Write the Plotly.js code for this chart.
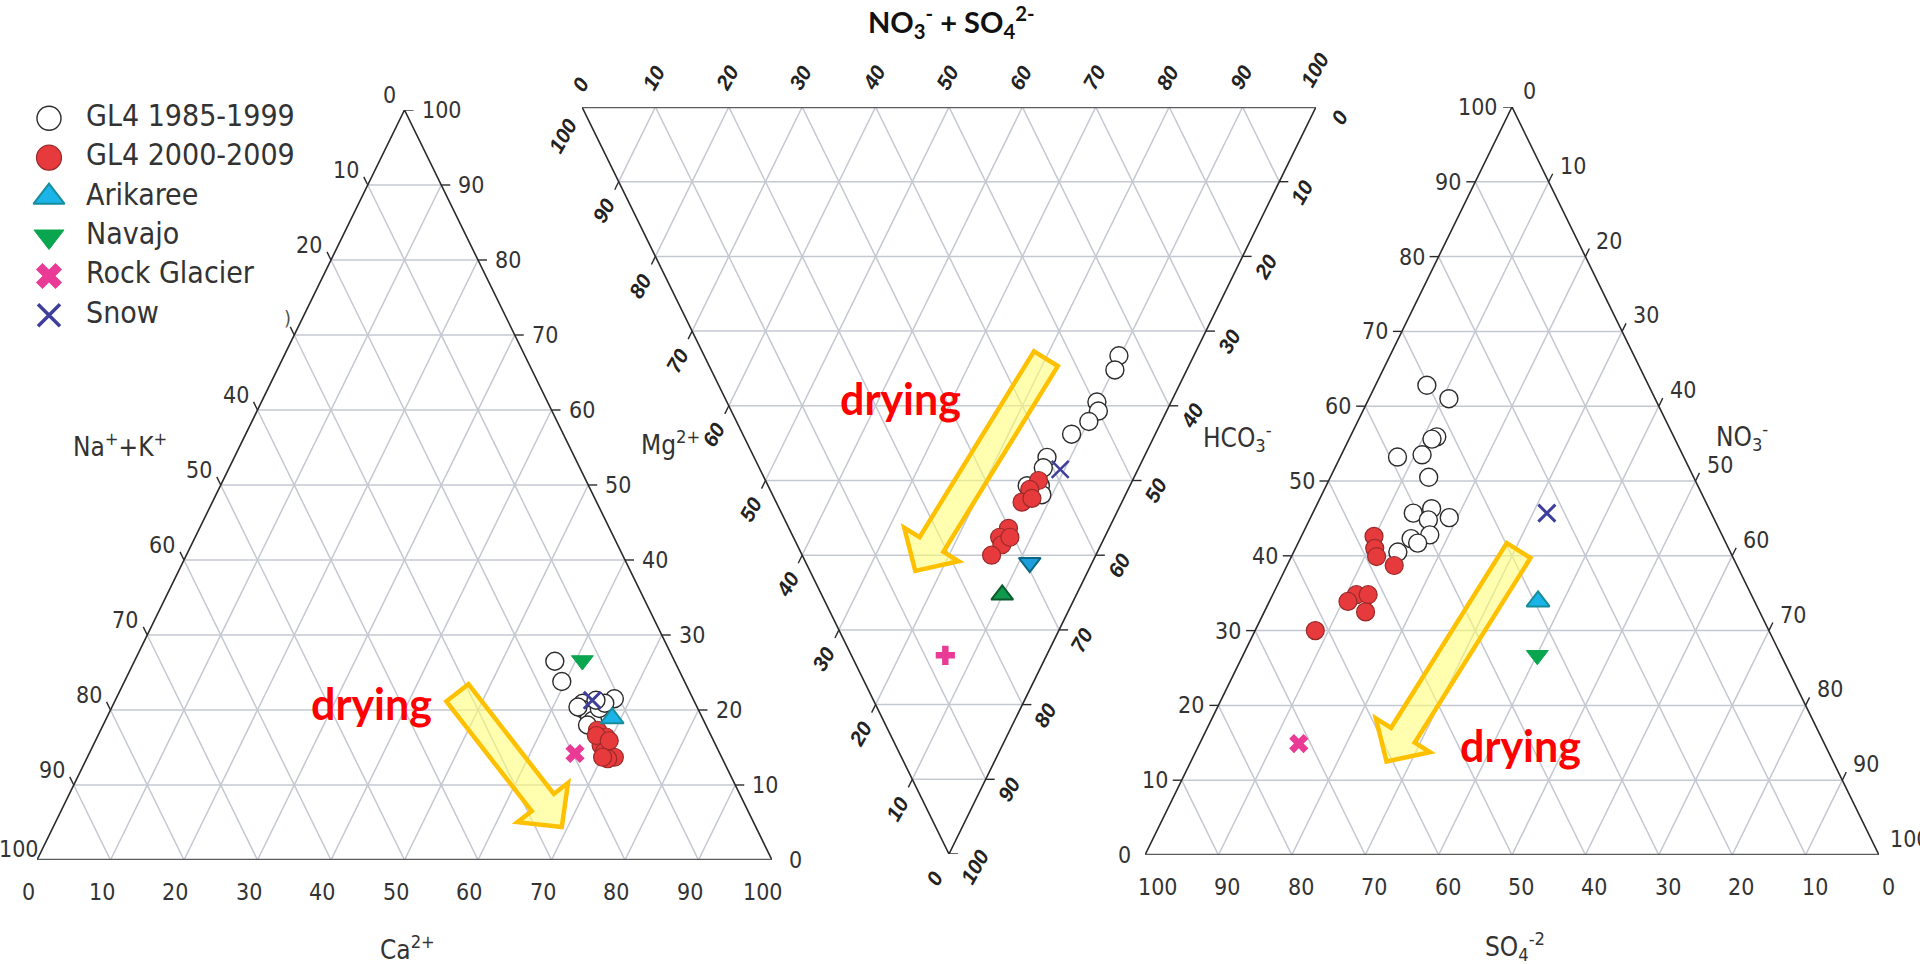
<!DOCTYPE html>
<html>
<head>
<meta charset="utf-8">
<script src="https://cdn.plot.ly/plotly-3.0.1.min.js"></script>
<style>html,body{margin:0;padding:0;background:#fff}#chart{width:1920px;height:964px}</style>
</head>
<body>
<div id="chart"></div>
<script>
// ================= DATA =================
const seriesNames = ['GL4 1985-1999', 'GL4 2000-2009', 'Arikaree', 'Navajo', 'Rock Glacier', 'Snow'];
const tickValues = [0, 10, 20, 30, 40, 50, 60, 70, 80, 90, 100];

// Left triangle (cations): Ca2+ and Mg2+ in %, Na+ + K+ = 100 - Ca - Mg
const catGL4aCa = [57.2, 59.5, 67.8, 63.8, 64.5, 65.5, 66.3, 66.4, 66.8, 65.4, 63.4, 65.9];
const catGL4aMg = [26.5, 23.8, 21.5, 20.9, 20.0, 19.3, 18.6, 20.2, 20.9, 21.3, 20.4, 18.0];
const catGL4bCa = [67.6, 69.2, 69.1, 70.0, 71.7, 70.9, 67.8, 69.9, 70.1];
const catGL4bMg = [17.3, 16.4, 15.3, 14.4, 13.7, 13.5, 16.6, 15.9, 13.7];
const catArikCa = [68.8], catArikMg = [18.9];
const catNavCa = [60.9], catNavMg = [26.6];
const catRockCa = [66.1], catRockMg = [14.2];
const catSnowCa = [64.9], catSnowMg = [21.3];

// Middle (inverted) triangle: top axis NO3- + SO4 2- and right-edge axis, in %
const midGL4aTop = [56.5, 55.0, 50.4, 50.0, 48.0, 44.8, 39.9, 38.7, 37.1, 35.3, 36.7];
const midGL4aRight = [33.3, 35.2, 39.5, 40.7, 42.1, 43.8, 46.9, 48.3, 50.7, 50.7, 51.9];
const midGL4bTop = [37.2, 35.4, 33.5, 35.1, 29.9, 28.1, 27.9, 29.5, 25.8];
const midGL4bRight = [50.0, 51.2, 52.9, 52.4, 56.4, 57.6, 58.6, 57.6, 60.0];
const midArikTop = [30.5], midArikRight = [61.0];
const midNavTop = [24.6], midNavRight = [65.3];
const midRockTop = [12.8], midRockRight = [73.4];
const midSnowTop = [40.9], midSnowRight = [48.5];

// Right triangle (anions): SO4 2- and HCO3- in %, NO3- = 100 - SO4 - HCO3
const anGL4aSO4 = [30.2, 28.1, 32.3, 33.1, 39.0, 35.5, 36.1, 40.6, 37.8, 36.0, 39.0, 39.8, 42.6, 42.0, 45.3];
const anGL4aHCO3 = [62.8, 61.0, 55.9, 55.6, 53.2, 53.5, 50.5, 45.7, 46.3, 45.1, 44.8, 42.8, 42.3, 41.7, 40.5];
const anGL4bSO4 = [47.5, 48.2, 48.5, 46.7, 53.8, 55.4, 52.2, 53.7, 61.8];
const anGL4bHCO3 = [42.6, 41.0, 39.9, 38.7, 34.8, 33.9, 34.8, 32.5, 30.0];
const anArikSO4 = [29.5], anArikHCO3 = [33.9];
const anNavSO4 = [33.2], anNavHCO3 = [26.7];
const anRockSO4 = [71.6], anRockHCO3 = [14.9];
const anSnowSO4 = [22.4], anSnowHCO3 = [45.7];

// ================= LAYOUT / STYLE =================
const W = 1920, H = 964;
const FN = 'Liberation Sans Narrow, Arial Narrow, DejaVu Sans Condensed, Liberation Sans, Arial, sans-serif';
const boxes = {
  L: {x0: 37, x1: 772, yTop: 110, yBot: 860},
  M: {x0: 582, x1: 1316, yTop: 107, yBot: 854},
  R: {x0: 1145, x1: 1879, yTop: 107, yBot: 855},
  G: {x0: 0, x1: 330, yTop: 98.6, yBot: 335}
};
function dom(b) { return {x: [b.x0 / W, b.x1 / W], y: [(H - b.yBot) / H, (H - b.yTop) / H]}; }
function px2paper(px, py) { return [px / W, 1 - py / H]; }

const baseStyle = {
  gl4a: {symbol: 'circle', size: 18, color: '#ffffff', line: {color: '#2b2b2b', width: 1.4}},
  gl4b: {symbol: 'circle', size: 18, color: '#e63a3c', line: {color: '#9a2a2a', width: 1.2}},
  arik: {symbol: 'triangle-up', size: 20, color: '#1ab4e8', line: {color: '#178d9c', width: 2}},
  nav:  {symbol: 'triangle-down', size: 19, color: '#0aa64f', line: {color: '#0aa64f', width: 1}},
  rock: {symbol: 'x', size: 17, color: '#e93a96', line: {width: 0}},
  snow: {symbol: 'x-thin', size: 17, color: '#3e3e9c', line: {color: '#3e3e9c', width: 3}}
};
const midStyle = Object.assign({}, baseStyle, {
  arik: {symbol: 'triangle-down', size: 19, color: '#1a9fdc', line: {color: '#0e6685', width: 2}},
  nav:  {symbol: 'triangle-up', size: 19, color: '#0d9a4c', line: {color: '#0b5a2d', width: 2}},
  rock: {symbol: 'cross', size: 16, color: '#e93a96', line: {width: 0}},
  snow: {symbol: 'x-thin', size: 17, color: '#3e3e9c', line: {color: '#3e3e9c', width: 2.5}}
});
const keys = ['gl4a', 'gl4b', 'arik', 'nav', 'rock', 'snow'];
const leftData = [[catGL4aCa, catGL4aMg], [catGL4bCa, catGL4bMg], [catArikCa, catArikMg], [catNavCa, catNavMg], [catRockCa, catRockMg], [catSnowCa, catSnowMg]];
const midData = [[midGL4aTop, midGL4aRight], [midGL4bTop, midGL4bRight], [midArikTop, midArikRight], [midNavTop, midNavRight], [midRockTop, midRockRight], [midSnowTop, midSnowRight]];
const rightData = [[anGL4aSO4, anGL4aHCO3], [anGL4bSO4, anGL4bHCO3], [anArikSO4, anArikHCO3], [anNavSO4, anNavHCO3], [anRockSO4, anRockHCO3], [anSnowSO4, anSnowHCO3]];

const tris = [
  {box: boxes.L, xa: 'x', ya: 'y', V: [[0, 0], [100, 0], [50, 100]], data: leftData, style: baseStyle,
   toComp: (ca, mg) => [100 - ca - mg, ca, mg],
   axes: [
     {i: 1, j: 2, anchor: 'center', place: n => [-9, 32]},
     // the "30" label of this edge is hidden under the legend in the original (only ")" remains)
     {i: 0, j: 1, anchor: 'right', place: n => [-7, -15], hide: [30],
      special: {100: {anchor: 'center', off: [-18, -11]}}},
     {i: 2, j: 0, anchor: 'left', place: n => [15, 0]}
   ]},
  {box: boxes.M, xa: 'x2', ya: 'y2', V: [[0, 100], [100, 100], [50, 0]], data: midData, style: midStyle,
   toComp: (t, r) => [100 - t - r, t, r],
   axes: [
     {i: 1, j: 2, rot: true, place: n => [-2, -(23 + 7 * (n - 1))]},
     {i: 0, j: 1, rot: true, place: n => [n > 2 ? -20 : -15, n < 2 ? 24 : 29]},
     {i: 2, j: 0, rot: true, place: n => [n > 2 ? 25 : 23, n > 2 ? 13 : 10]}
   ]},
  {box: boxes.R, xa: 'x3', ya: 'y3', V: [[0, 0], [100, 0], [50, 100]], data: rightData, style: baseStyle,
   toComp: (s, h) => [s, 100 - s - h, h],
   axes: [
     {i: 0, j: 2, anchor: 'center', place: n => [n > 2 ? 13 : 9, 32]},
     {i: 2, j: 1, anchor: 'right', place: n => [-12, 0]},
     {i: 1, j: 0, anchor: 'left', place: n => [9, -16]}
   ]}
];

function pos(V, c) {
  return [(c[0] * V[0][0] + c[1] * V[1][0] + c[2] * V[2][0]) / 100,
          (c[0] * V[0][1] + c[1] * V[1][1] + c[2] * V[2][1]) / 100];
}
function comp(i, v, j) { const c = [0, 0, 0]; const k = 3 - i - j; c[i] = v; c[j] = 0; c[k] = 100 - v; return c; }

const traces = [];
const annotations = [];
const shapes = [];

tris.forEach(t => {
  const sx = (t.box.x1 - t.box.x0) / 100, sy = (t.box.yBot - t.box.yTop) / 100;
  const P = c => pos(t.V, c);
  const common = {type: 'scatter', xaxis: t.xa, yaxis: t.ya, hoverinfo: 'skip', cliponaxis: false, showlegend: false};
  // grid
  const gx = [], gy = [];
  for (let i = 0; i < 3; i++) for (const v of tickValues) {
    if (v === 0 || v === 100) continue;
    const o = [0, 1, 2].filter(q => q !== i);
    const a = P(comp(i, v, o[0])), b = P(comp(i, v, o[1]));
    gx.push(a[0], b[0], null); gy.push(a[1], b[1], null);
  }
  traces.push(Object.assign({}, common, {mode: 'lines', x: gx, y: gy, line: {color: '#c4c8d1', width: 1.5}}));
  // edges
  traces.push(Object.assign({}, common, {mode: 'lines', x: [t.V[1][0], t.V[2][0], t.V[0][0]], y: [t.V[1][1], t.V[2][1], t.V[0][1]], line: {color: '#2a2a2a', width: 1.6}}));
  traces.push(Object.assign({}, common, {mode: 'lines', x: [t.V[0][0], t.V[1][0]], y: [t.V[0][1], t.V[1][1]], line: {color: '#5c5c5c', width: 2.6}}));
  // ticks + labels
  const tx = [], ty = [];
  t.axes.forEach(ax => {
    const k = 3 - ax.i - ax.j;
    const e = P(comp(ax.i, 50, ax.j)), o = P(comp(ax.i, 50, k));
    let dxp = (e[0] - o[0]) * sx, dyp = -(e[1] - o[1]) * sy;
    const len = Math.hypot(dxp, dyp); dxp /= len; dyp /= len;
    const TL = 9;
    tickValues.forEach(v => {
      const p = P(comp(ax.i, v, ax.j));
      tx.push(p[0], p[0] + dxp * TL / sx, null); ty.push(p[1], p[1] - dyp * TL / sy, null);
      if (ax.hide && ax.hide.includes(v)) return;
      const txt = String(v);
      const sp = ax.special && ax.special[v];
      const off = sp ? sp.off : ax.place(txt.length);
      const ann = {x: p[0], y: p[1], xref: t.xa, yref: t.ya, text: txt, showarrow: false,
                   xshift: off[0], yshift: -off[1], yanchor: 'middle'};
      if (ax.rot) {
        ann.textangle = -60; ann.xanchor = 'center';
        ann.font = {family: 'Liberation Sans, Arial, sans-serif', size: 21, color: '#222', weight: 'bold', style: 'italic'};
      } else {
        ann.xanchor = sp ? sp.anchor : ax.anchor;
        ann.font = {family: FN, size: 23, color: '#333'};
      }
      annotations.push(ann);
    });
  });
  traces.push(Object.assign({}, common, {mode: 'lines', x: tx, y: ty, line: {color: '#2a2a2a', width: 1.4}}));
  // data points
  t.data.forEach((d, si) => {
    const xs = [], ys = [];
    d[0].forEach((a, m) => { const p = P(t.toComp(a, d[1][m])); xs.push(p[0]); ys.push(p[1]); });
    const st = t.style[keys[si]];
    traces.push(Object.assign({}, common, {mode: 'markers', name: seriesNames[si], x: xs, y: ys,
      marker: {symbol: st.symbol, size: st.size, color: st.color, line: st.line}}));
  });
});

// custom legend (own axes)
const legendRows = seriesNames.map((_, i) => i);
seriesNames.forEach((nm, i) => {
  const st = baseStyle[keys[i]];
  const big = {gl4a: 24, gl4b: 25, arik: 27, nav: 26, rock: 23, snow: 22}[keys[i]];
  traces.push({type: 'scatter', mode: 'markers', xaxis: 'x4', yaxis: 'y4', x: [49], y: [legendRows[i]], showlegend: false, hoverinfo: 'skip', cliponaxis: false,
    marker: {symbol: st.symbol, size: big, color: st.color, line: Object.assign({}, st.line, keys[i] === 'snow' ? {width: 3.5} : {})}});
});
traces.push({type: 'scatter', mode: 'text', xaxis: 'x4', yaxis: 'y4', x: seriesNames.map(() => 86), y: legendRows, text: seriesNames,
  textposition: 'middle right', textfont: {family: FN, size: 30, color: '#333'}, showlegend: false, hoverinfo: 'skip', cliponaxis: false});

// axis titles and notes
function note(px, py, text, font, extra) {
  const p = px2paper(px, py);
  annotations.push(Object.assign({x: p[0], y: p[1], xref: 'paper', yref: 'paper', text: text, showarrow: false, xanchor: 'center', yanchor: 'middle', font: font}, extra || {}));
}
const axFont = {family: FN, size: 26, color: '#333'};
note(120, 445, 'Na<sup>+</sup>+K<sup>+</sup>', axFont);
note(407, 948, 'Ca<sup>2+</sup>', axFont);
note(670, 443, 'Mg<sup>2+</sup>', axFont);
note(1237, 438, 'HCO<sub>3</sub><sup>-</sup>', axFont);
note(1742, 437, 'NO<sub>3</sub><sup>-</sup>', axFont);
note(1515, 946, 'SO<sub>4</sub><sup>-2</sup>', axFont);
note(287, 318, ')', {family: FN, size: 20, color: '#555'});
note(951, 22, 'NO<sub>3</sub><sup>-</sup> + SO<sub>4</sub><sup>2-</sup>', {family: 'Lato, Open Sans, sans-serif', size: 29, color: '#111', weight: 'bold'});
const dryFont = {family: 'Lato, Open Sans, sans-serif', size: 43, color: '#ff0000', weight: 'bold'};
note(371, 703, 'drying', dryFont);
note(900, 398, 'drying', dryFont);
note(1520, 745, 'drying', dryFont);

// block arrows (tail/tip in each triangle's plane coordinates)
const arrows = [
  {t: 0, tail: [57.2, 22.3], tip: [71.4, 4.4]},
  {t: 1, tail: [63.2, 66.3], tip: [45.4, 37.9]},
  {t: 2, tail: [50.9, 40.7], tip: [32.9, 12.5]}
];
arrows.forEach(a => {
  const t = tris[a.t];
  const sx = (t.box.x1 - t.box.x0) / 100, sy = (t.box.yBot - t.box.yTop) / 100;
  const toPx = p => [p[0] * sx, -p[1] * sy];
  const toD = p => [p[0] / sx, -p[1] / sy];
  const T = toPx(a.tail), Pp = toPx(a.tip);
  const L = Math.hypot(Pp[0] - T[0], Pp[1] - T[1]);
  const d = [(Pp[0] - T[0]) / L, (Pp[1] - T[1]) / L], n = [-d[1], d[0]];
  const w = 14, hw = 32, hl = 31;
  const B = [Pp[0] - d[0] * hl, Pp[1] - d[1] * hl];
  const pts = [
    [T[0] + n[0] * w, T[1] + n[1] * w], [B[0] + n[0] * w, B[1] + n[1] * w], [B[0] + n[0] * hw, B[1] + n[1] * hw],
    Pp, [B[0] - n[0] * hw, B[1] - n[1] * hw], [B[0] - n[0] * w, B[1] - n[1] * w], [T[0] - n[0] * w, T[1] - n[1] * w]
  ].map(toD);
  const path = 'M ' + pts.map(p => p[0].toFixed(3) + ',' + p[1].toFixed(3)).join(' L ') + ' Z';
  shapes.push({type: 'path', path: path, xref: t.xa, yref: t.ya, layer: 'above',
    fillcolor: 'rgba(255,255,110,0.55)', line: {color: '#ffc000', width: 4.5}});
});

function axis(b, which, range, anchor) {
  const dd = dom(b);
  return {domain: dd[which], range: range, visible: false, fixedrange: true, anchor: anchor};
}
const layout = {
  width: W, height: H, margin: {l: 0, r: 0, t: 0, b: 0},
  paper_bgcolor: '#ffffff', plot_bgcolor: 'rgba(0,0,0,0)', showlegend: false,
  xaxis: axis(boxes.L, 'x', [0, 100], 'y'), yaxis: axis(boxes.L, 'y', [0, 100], 'x'),
  xaxis2: axis(boxes.M, 'x', [0, 100], 'y2'), yaxis2: axis(boxes.M, 'y', [0, 100], 'x2'),
  xaxis3: axis(boxes.R, 'x', [0, 100], 'y3'), yaxis3: axis(boxes.R, 'y', [0, 100], 'x3'),
  xaxis4: axis(boxes.G, 'x', [0, 330], 'y4'), yaxis4: axis(boxes.G, 'y', [5.5, -0.5], 'x4'),
  annotations: annotations, shapes: shapes
};
Plotly.newPlot('chart', traces, layout, {staticPlot: true, displayModeBar: false});
</script>
</body>
</html>
